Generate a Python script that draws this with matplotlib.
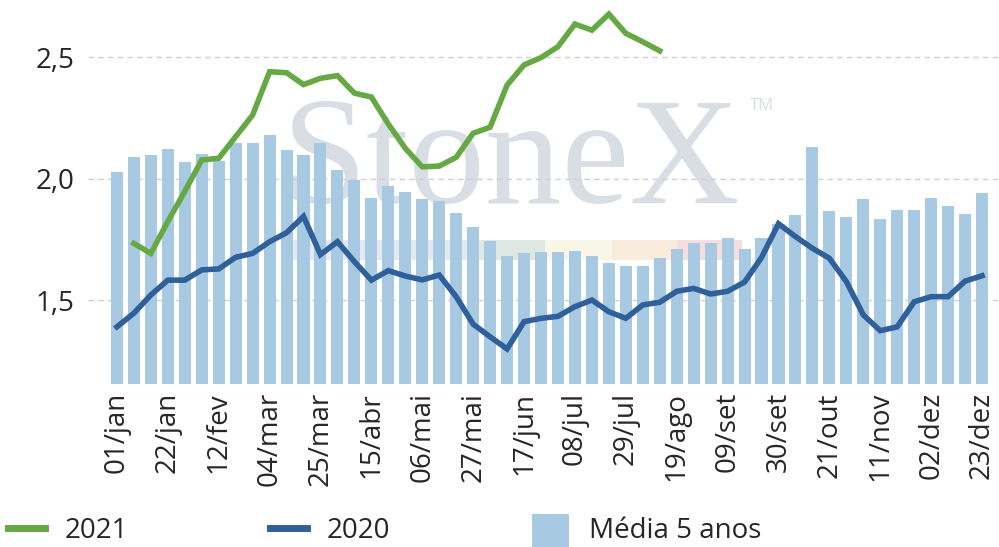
import numpy as np
import matplotlib
matplotlib.use("Agg")
import matplotlib.pyplot as plt
from matplotlib.lines import Line2D
from matplotlib.patches import Patch, Rectangle
from matplotlib.legend_handler import HandlerPatch

# ---------------- data ----------------
tick_labels = ["01/jan", "22/jan", "12/fev", "04/mar", "25/mar", "15/abr",
               "06/mai", "27/mai", "17/jun", "08/jul", "29/jul", "19/ago",
               "09/set", "30/set", "21/out", "11/nov", "02/dez", "23/dez"]

media_5_anos = [2.027, 2.089, 2.097, 2.122, 2.069, 2.102, 2.073, 2.147, 2.147, 2.180,
                2.118, 2.097, 2.147, 2.036, 1.995, 1.921, 1.970, 1.945, 1.916, 1.908,
                1.859, 1.801, 1.744, 1.682, 1.694, 1.699, 1.699, 1.703, 1.682, 1.653,
                1.641, 1.641, 1.674, 1.711, 1.735, 1.735, 1.756, 1.711, 1.756, 1.815,
                1.851, 2.130, 1.867, 1.842, 1.916, 1.834, 1.871, 1.871, 1.921, 1.888,
                1.855, 1.941]

serie_2020 = [1.391, 1.447, 1.522, 1.583, 1.583, 1.625, 1.629, 1.677, 1.693, 1.741,
              1.778, 1.845, 1.688, 1.741, 1.659, 1.583, 1.622, 1.600, 1.584, 1.604,
              1.515, 1.402, 1.350, 1.300, 1.412, 1.426, 1.434, 1.474, 1.501, 1.453,
              1.426, 1.481, 1.492, 1.537, 1.549, 1.526, 1.537, 1.575, 1.676, 1.815,
              1.762, 1.714, 1.673, 1.577, 1.440, 1.375, 1.391, 1.494, 1.515, 1.515,
              1.579, 1.601]

serie_2021 = [np.nan, 1.734, 1.693, 1.824, 1.948, 2.077, 2.084, 2.173, 2.262, 2.440,
              2.436, 2.387, 2.413, 2.424, 2.352, 2.336, 2.225, 2.125, 2.049, 2.052,
              2.088, 2.187, 2.212, 2.385, 2.468, 2.498, 2.543, 2.636, 2.611, 2.677,
              2.598, 2.563, 2.526] + [np.nan] * 19

# ---------------- style ----------------
BAR_C = "#a8c9e2"
GREEN = "#66a944"
BLUE = "#30609a"
TXT = "#262626"
FONT = ["Open Sans", "DejaVu Sans"]
plt.rcParams["font.family"] = FONT

fig = plt.figure(figsize=(9.99, 5.47), dpi=100)
ax = fig.add_axes([0.088, 0.2985, 0.912, 0.7015])

x = np.arange(len(media_5_anos))
ax.bar(x, media_5_anos, width=0.71, color=BAR_C, zorder=2)
ax.plot(x, serie_2020, color=BLUE, lw=4.0, zorder=3, solid_joinstyle="miter")
ax.plot(x, serie_2021, color=GREEN, lw=4.0, zorder=4, solid_joinstyle="miter")

ax.set_xlim(-1.71, 52.0)
ax.set_ylim(1.157, 2.735)
ax.set_yticks([1.5, 2.0, 2.5])
ax.set_yticklabels(["1,5", "2,0", "2,5"])
ax.set_xticks(x[::3])
ax.set_xticklabels(tick_labels, rotation=90)
ax.tick_params(axis="both", length=0, labelsize=20, colors=TXT)
ax.tick_params(axis="y", pad=10)
ax.tick_params(axis="x", pad=6)
for s in ax.spines.values():
    s.set_visible(False)
ax.set_axisbelow(True)
ax.grid(axis="y", color="#d0d0d0", linestyle=(0, (4, 3)), lw=1.0, zorder=1)

# watermark
ax.text(0.213, 0.471, "StoneX", transform=ax.transAxes, fontsize=110,
        family=["Liberation Serif", "DejaVu Serif"], color="#d9dee5",
        ha="left", va="baseline", zorder=0.5)
ax.text(0.727, 0.713, "TM", transform=ax.transAxes, fontsize=12,
        color="#d9dee5", ha="left", va="baseline", zorder=0.5)
stripe = [(0.2217, 0.4303, "#e4e9ef"), (0.4303, 0.5017, "#dde8e2"),
          (0.5017, 0.5752, "#f8f6e6"), (0.5752, 0.6465, "#faecdd"),
          (0.6465, 0.7179, "#f5dfde")]
for x0, x1, c in stripe:
    ax.add_patch(Rectangle((x0, 0.322), x1 - x0, 0.0525, transform=ax.transAxes,
                           facecolor=c, edgecolor="none", zorder=0.4))

# legend
def tall_patch(legend, orig_handle, xdescent, ydescent, width, height, fontsize):
    return Rectangle((-xdescent, -ydescent - 0.5 * height), width, 1.75 * height)

handles = [Line2D([], [], color=GREEN, lw=5),
           Line2D([], [], color=BLUE, lw=5),
           Patch(facecolor=BAR_C, edgecolor="none")]
labels = ["2021", "2020", "Média 5 anos"]
leg = fig.legend(handles, labels, loc="lower left", bbox_to_anchor=(0.008, 0.004),
                 ncol=3, frameon=False, fontsize=20, handlelength=1.33,
                 handletextpad=0.72, columnspacing=5.1, borderpad=0, borderaxespad=0,
                 handler_map={Patch: HandlerPatch(patch_func=tall_patch)})
for t in leg.get_texts():
    t.set_color(TXT)

fig.savefig("out.png", dpi=100)
